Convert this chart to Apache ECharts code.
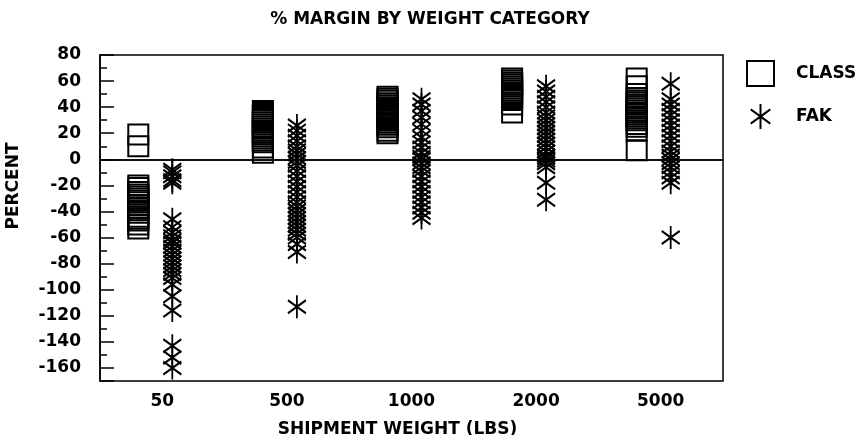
<!DOCTYPE html>
<html>
<head>
<meta charset="utf-8">
<script src="https://cdn.jsdelivr.net/npm/echarts@6/dist/echarts.min.js"></script>
<style>
  html, body { margin: 0; padding: 0; background: #fff; }
  #chart { width: 864px; height: 435px; }
</style>
</head>
<body>
<div id="chart"></div>
<script>
  const categories = ['50', '500', '1000', '2000', '5000']

  // % margin readings, one list per weight category
  const class50 = [19, 10, -20, -22, -25, -27, -28.5, -30, -31.5, -33, -35, -37, -39, -41, -44, -45.5, -47, -50, -53]
  const class500 = [37, 35.5, 34, 32.5, 31, 29.5, 28, 26.5, 25, 23.5, 22, 20.5, 19, 17.5, 16, 14.5, 13, 9, 5]
  const class1000 = [48, 46.5, 45, 43, 41.5, 40, 38.5, 37, 35.5, 34, 32.5, 31, 29.5, 28, 26.5, 24.5, 22, 20]
  const class2000 = [62, 60.5, 59, 57.5, 56, 54.5, 53, 51.5, 50, 48.5, 47, 45.5, 42, 36]
  const class5000 = [62, 56, 50, 47, 45, 43.5, 42, 40.5, 39, 37.5, 36, 34.5, 33, 31.5, 30, 27, 25, 22, 7]

  const fak50 = [-8, -10, -13, -16, -18, -46, -52, -56, -59, -62, -64, -67, -70, -73, -76, -79, -82, -85, -88, -91, -96, -105, -116, -143, -152, -160]
  const fak500 = [26, 22, 18, 14, 10, 7, 4, 1, -2, -5, -9, -13, -17, -21, -25, -29, -33, -36, -39, -42, -45, -48, -51, -54, -57, -60, -65, -71, -113]
  const fak1000 = [46, 42, 37, 32, 27, 22, 17, 13, 9, 5, 2, 0, -3, -6, -9, -13, -17, -21, -25, -29, -33, -37, -41, -45]
  const fak2000 = [56, 52, 48, 44, 40, 36, 33, 30, 27, 24, 21, 18, 15, 12, 9, 6, 3, 1, -1, -3, -6, -18, -31]
  const fak5000 = [58, 46, 42, 38, 34, 30, 26, 22, 18, 14, 10, 6, 3, 0, -3, -6, -10, -14, -18, -60]

  const classData = [class50, class500, class1000, class2000, class5000]
  const fakData = [fak50, fak500, fak1000, fak2000, fak5000]

  function toPoints(groups) {
    let pts = []
    groups.forEach((vals, i) => {
      vals.forEach(v => pts.push([categories[i], v]))
    })
    return pts
  }

  const font = 'DejaVu Sans'
  const asterisk = 'path://M9,0L9,23M0,5L18,18M0,18L18,5'

  const myChart = echarts.init(document.getElementById('chart'))
  myChart.setOption({
    animation: false,
    title: {
      text: '% MARGIN BY WEIGHT CATEGORY',
      left: 425,
      top: 6,
      textAlign: 'center',
      textStyle: { fontFamily: font, fontSize: 17, fontWeight: 'bold', color: '#000' }
    },
    legend: {
      orient: 'vertical',
      left: 741,
      top: 55,
      itemWidth: 27,
      itemHeight: 25,
      itemGap: 16,
      textStyle: { fontFamily: font, fontSize: 17, fontWeight: 'bold', color: '#000', padding: [0, 0, 0, 17] },
      data: ['CLASS', 'FAK']
    },
    grid: {
      left: 100,
      top: 55,
      right: 141,
      bottom: 54,
      outerBoundsMode: 'none',
      show: true,
      borderColor: '#000',
      borderWidth: 1.5
    },
    xAxis: {
      type: 'category',
      data: categories,
      boundaryGap: true,
      axisTick: { show: false },
      axisLine: { lineStyle: { color: '#000', width: 1.5 } },
      axisLabel: { margin: 12, fontFamily: font, fontSize: 17, fontWeight: 'bold', color: '#000' },
      name: 'SHIPMENT WEIGHT (LBS)',
      nameLocation: 'middle',
      nameGap: 40,
      nameTextStyle: { fontFamily: font, fontSize: 17, fontWeight: 'bold', color: '#000', padding: [0, 28, 0, 0] }
    },
    yAxis: {
      type: 'value',
      min: -170,
      max: 80,
      splitNumber: 12,
      splitLine: { show: false },
      axisLine: { show: true, lineStyle: { color: '#000', width: 1.5 } },
      axisTick: { show: true, inside: true, length: 14, lineStyle: { color: '#000', width: 1.5 } },
      minorTick: { show: true, splitNumber: 2, length: 7, lineStyle: { color: '#000', width: 1.5 } },
      axisLabel: { showMinLabel: false, margin: 19, fontFamily: font, fontSize: 17, fontWeight: 'bold', color: '#000' }
    },
    graphic: [{
      type: 'text',
      x: 14,
      y: 186,
      rotation: Math.PI / 2,
      style: {
        text: 'PERCENT',
        fill: '#000',
        font: 'bold 17px "DejaVu Sans"',
        align: 'center',
        verticalAlign: 'middle'
      }
    }],
    series: [{
      name: 'CLASS',
      type: 'scatter',
      symbol: 'rect',
      symbolSize: [20, 20],
      symbolOffset: [-24, 0],
      itemStyle: { color: 'rgba(0,0,0,0)', borderColor: '#000', borderWidth: 2, opacity: 1 },
      data: toPoints(classData),
      markLine: {
        silent: true,
        symbol: 'none',
        label: { show: false },
        lineStyle: { color: '#000', type: 'solid', width: 1.5 },
        data: [{ yAxis: 0 }]
      }
    }, {
      name: 'FAK',
      type: 'scatter',
      symbol: asterisk,
      symbolSize: [18, 23],
      symbolOffset: [10, 0],
      itemStyle: { color: 'rgba(0,0,0,0)', borderColor: '#000', borderWidth: 2, opacity: 1 },
      data: toPoints(fakData)
    }]
  })
</script>
</body>
</html>
